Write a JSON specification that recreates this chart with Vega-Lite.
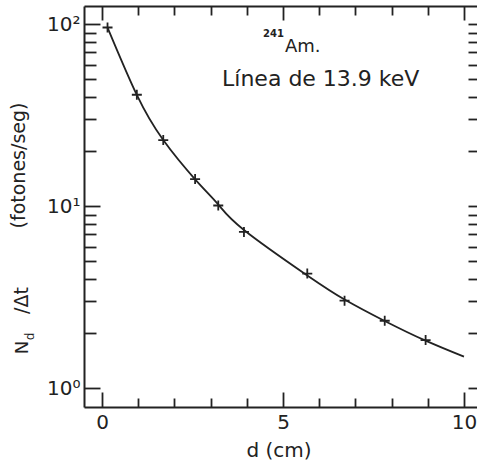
{
  "$schema": "https://vega.github.io/schema/vega-lite/v6.json",
  "width": 393,
  "height": 401,
  "autosize": {"type": "none"},
  "padding": {"left": 84, "top": 6, "right": 0, "bottom": 55},
  "background": "white",
  "config": {
    "view": {"stroke": null},
    "axis": {
      "grid": false,
      "domainColor": "#222",
      "domainWidth": 2,
      "tickColor": "#222",
      "tickWidth": 1.8,
      "labelColor": "#222",
      "titleColor": "#222",
      "labelFont": "DejaVu Sans",
      "titleFont": "DejaVu Sans",
      "titleFontWeight": "normal",
      "labelFlush": false,
      "labelOverlap": false,
      "labelFontSize": 20
    }
  },
  "datasets": {
    "curve": [
      {"d": 0.15, "n": 96},
      {"d": 0.96, "n": 40.9},
      {"d": 1.69, "n": 23.1},
      {"d": 2.57, "n": 14.07},
      {"d": 3.21, "n": 10.23},
      {"d": 3.92, "n": 7.41},
      {"d": 5.67, "n": 4.17},
      {"d": 6.7, "n": 3.075},
      {"d": 7.81, "n": 2.343},
      {"d": 8.94, "n": 1.826},
      {"d": 10.0, "n": 1.491}
    ],
    "points": [
      {"d": 0.15, "n": 96},
      {"d": 0.96, "n": 41},
      {"d": 1.69, "n": 23.1},
      {"d": 2.57, "n": 14.1},
      {"d": 3.21, "n": 10.1},
      {"d": 3.92, "n": 7.23},
      {"d": 5.67, "n": 4.27},
      {"d": 6.7, "n": 3.03},
      {"d": 7.81, "n": 2.35},
      {"d": 8.94, "n": 1.84}
    ]
  },
  "layer": [
    {
      "data": {"name": "curve"},
      "mark": {"type": "line", "interpolate": "natural", "color": "#222", "strokeWidth": 1.8},
      "encoding": {
        "x": {
          "field": "d", "type": "quantitative",
          "scale": {"domain": [-0.5, 10.36], "nice": false, "zero": false},
          "axis": {
            "orient": "bottom", "values": [0, 5, 10], "tickSize": -15, "labelPadding": 20,
            "title": "d (cm)", "titleX": 194.5, "titleY": 49, "titleAlign": "center",
            "titleBaseline": "alphabetic", "titleFontSize": 20
          }
        },
        "y": {
          "field": "n", "type": "quantitative",
          "scale": {"type": "log", "domain": [0.789, 126], "nice": false},
          "axis": {
            "orient": "left", "values": [1, 10, 100], "tickSize": -16, "labelPadding": 20,
            "labelExpr": "datum.value == 1 ? '10⁰' : datum.value == 10 ? '10¹' : '10²'",
            "title": "(fotones/seg)", "titleAngle": -90, "titleX": -59.5, "titleY": 159,
            "titleAlign": "center", "titleBaseline": "alphabetic", "titleFontSize": 19
          }
        }
      }
    },
    {
      "data": {"name": "points"},
      "mark": {"type": "point", "shape": "M-1,0H1M0,-1V1", "size": 100, "filled": false, "color": "#222", "strokeWidth": 1.8, "opacity": 1},
      "encoding": {
        "x": {
          "field": "d", "type": "quantitative",
          "scale": {"domain": [-0.5, 10.36], "nice": false, "zero": false},
          "axis": {
            "orient": "bottom", "values": [1, 2, 3, 4, 6, 7, 8, 9], "tickSize": -9,
            "labels": false, "domain": false, "title": null
          }
        },
        "y": {
          "field": "n", "type": "quantitative",
          "scale": {"type": "log", "domain": [0.789, 126], "nice": false},
          "axis": {
            "orient": "left", "values": [2, 3, 4, 5, 6, 7, 8, 9, 20, 30, 40, 50, 60, 70, 80, 90],
            "tickSize": -12, "labels": false, "domain": false,
            "title": "/Δt", "titleAngle": -90, "titleX": -57, "titleY": 294,
            "titleAlign": "center", "titleBaseline": "alphabetic", "titleFontSize": 19
          }
        }
      }
    },
    {
      "data": {"values": [{"d": 5.055, "n": 70.5, "label": "Am."}]},
      "mark": {"type": "text", "align": "left", "baseline": "alphabetic", "fontSize": 18, "font": "DejaVu Sans", "color": "#222"},
      "encoding": {
        "text": {"field": "label"},
        "x": {
          "field": "d", "type": "quantitative",
          "scale": {"domain": [-0.5, 10.36], "nice": false, "zero": false},
          "axis": {
            "orient": "top", "values": [0, 5, 10], "tickSize": -14,
            "labels": false, "domain": true, "title": null
          }
        },
        "y": {
          "field": "n", "type": "quantitative",
          "scale": {"type": "log", "domain": [0.789, 126], "nice": false},
          "axis": {
            "orient": "right", "values": [1, 10, 100], "tickSize": -9,
            "labels": false, "domain": false,
            "title": "N", "titleAngle": -90, "titleX": -450, "titleY": 341,
            "titleAlign": "center", "titleBaseline": "alphabetic", "titleFontSize": 18
          }
        }
      }
    },
    {
      "data": {"values": [{"d": 3.315, "n": 45.8, "label": "Línea de 13.9 keV"}]},
      "mark": {"type": "text", "align": "left", "baseline": "alphabetic", "fontSize": 22, "font": "DejaVu Sans", "color": "#222"},
      "encoding": {
        "text": {"field": "label"},
        "x": {
          "field": "d", "type": "quantitative",
          "scale": {"domain": [-0.5, 10.36], "nice": false, "zero": false},
          "axis": {
            "orient": "top", "values": [1, 2, 3, 4, 6, 7, 8, 9], "tickSize": -9,
            "labels": false, "domain": false, "title": null
          }
        },
        "y": {
          "field": "n", "type": "quantitative",
          "scale": {"type": "log", "domain": [0.789, 126], "nice": false},
          "axis": {
            "orient": "right", "values": [2, 3, 4, 5, 6, 7, 8, 9, 20, 30, 40, 50, 60, 70, 80, 90],
            "tickSize": -9, "labels": false, "domain": false,
            "title": "d", "titleAngle": -90, "titleX": -444, "titleY": 330,
            "titleAlign": "center", "titleBaseline": "alphabetic", "titleFontSize": 12
          }
        }
      }
    },
    {
      "data": {"values": [{"d": 4.448, "n": 85.1, "label": "241"}]},
      "mark": {"type": "text", "align": "left", "baseline": "alphabetic", "fontSize": 10, "font": "DejaVu Sans", "fontWeight": "bold", "color": "#222"},
      "encoding": {
        "text": {"field": "label"},
        "x": {"field": "d", "type": "quantitative", "scale": {"domain": [-0.5, 10.36], "nice": false, "zero": false}, "axis": null},
        "y": {"field": "n", "type": "quantitative", "scale": {"type": "log", "domain": [0.789, 126], "nice": false}, "axis": null}
      }
    }
  ],
  "resolve": {"axis": {"x": "independent", "y": "independent"}}
}
